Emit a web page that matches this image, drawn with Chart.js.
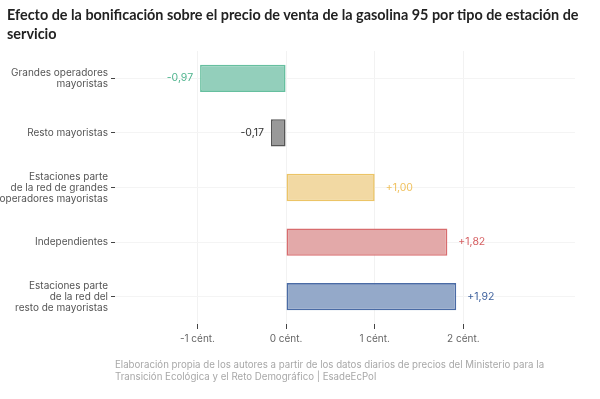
<!DOCTYPE html>
<html>
<head>
<meta charset="utf-8">
<script src="https://cdn.jsdelivr.net/npm/chart.js@4"></script>
<style>
  body { margin: 0; background: #fff; }
  .wrap { position: relative; width: 600px; height: 399px; }
  canvas { position: absolute; left: 0; top: 0; }
  .title {
    position: absolute; left: 7px; top: 5px; white-space: nowrap;
    font-family: "Lato", sans-serif; font-weight: 700; font-size: 14.4px;
    line-height: 19px; color: #222;
  }
  .caption {
    position: absolute; left: 115px; top: 359px; white-space: nowrap;
    font-family: "Inter", sans-serif; font-size: 9.7px; line-height: 12px; color: #a8a8a8;
  }
</style>
</head>
<body>
<div class="wrap">
  <canvas id="chart" width="600" height="399"></canvas>
  <div class="title">Efecto de la bonificación sobre el precio de venta de la gasolina 95 por tipo de estación de<br>servicio</div>
  <div class="caption">Elaboración propia de los autores a partir de los datos diarios de precios del Ministerio para la<br>Transición Ecológica y el Reto Demográfico | EsadeEcPol</div>
</div>
<script>
const categories = [
  ["Grandes operadores", "mayoristas"],
  ["Resto mayoristas"],
  ["Estaciones parte", "de la red de grandes", "operadores mayoristas"],
  ["Independientes"],
  ["Estaciones parte", "de la red del", "resto de mayoristas"]
];
const values = [-0.97, -0.17, 1.00, 1.82, 1.92];
const xTicks = [-1, 0, 1, 2];

const fills = ["#93cfbb", "#999999", "#f2d9a3", "#e3a9a9", "#94a9c9"];
const borders = ["#66bf9f", "#555555", "#ecc466", "#d86c6e", "#4a6ba5"];
const labelColors = ["#4fb48e", "#333333", "#f0c260", "#d65f62", "#3c5f9c"];

const fmt = v => (v > 0 ? "+" : "") + v.toFixed(2).replace(".", ",");

const valueLabels = {
  id: "valueLabels",
  afterDatasetsDraw(chart) {
    const ctx = chart.ctx;
    const meta = chart.getDatasetMeta(0);
    ctx.save();
    ctx.font = "10.5px Inter, sans-serif";
    ctx.textBaseline = "middle";
    meta.data.forEach((bar, i) => {
      const v = values[i];
      ctx.fillStyle = labelColors[i];
      if (v < 0) {
        ctx.textAlign = "right";
        ctx.fillText(fmt(v), bar.x - 7, bar.y);
      } else {
        ctx.textAlign = "left";
        ctx.fillText(fmt(v), bar.x + 11, bar.y);
      }
    });
    ctx.restore();
  }
};

new Chart(document.getElementById("chart"), {
  type: "bar",
  data: {
    labels: categories,
    datasets: [{
      data: values,
      backgroundColor: fills,
      borderColor: borders,
      borderWidth: 1.6,
      borderSkipped: false,
      categoryPercentage: 1,
      barPercentage: 0.5
    }]
  },
  options: {
    indexAxis: "y",
    responsive: false,
    animation: false,
    layout: { padding: { left: 0, right: 25, top: 51, bottom: 50 } },
    plugins: {
      legend: { display: false },
      tooltip: { enabled: false }
    },
    scales: {
      x: {
        type: "linear",
        min: -1.93,
        max: 3.26,
        afterBuildTicks: axis => { axis.ticks = xTicks.map(v => ({ value: v })); },
        afterFit: axis => { axis.height = 25; },
        border: { display: false },
        grid: { color: "#f2f2f2", tickColor: "#444", tickLength: 5, lineWidth: 1 },
        ticks: {
          padding: 4,
          color: "#666",
          font: { family: "Inter", size: 10 },
          callback: v => v + " cént."
        }
      },
      y: {
        afterFit: axis => { axis.width = 115; },
        border: { display: false },
        grid: { offset: false, color: "#f4f4f4", tickColor: "#444", tickLength: 4 },
        ticks: {
          padding: 3,
          color: "#555",
          font: { family: "Inter", size: 10, lineHeight: 1.1 }
        }
      }
    }
  },
  plugins: [valueLabels]
});
</script>
</body>
</html>
